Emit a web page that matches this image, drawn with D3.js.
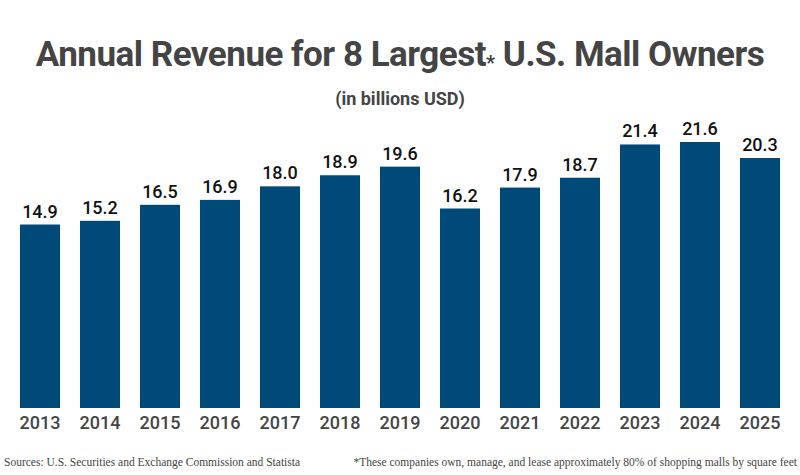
<!DOCTYPE html>
<html><head><meta charset="utf-8">
<script src="https://cdn.jsdelivr.net/npm/d3@7"></script>
<style>body{margin:0;background:#fff}</style>
</head><body>
<svg id="chart" width="800" height="475"></svg>
<script>
const years = ['2013','2014','2015','2016','2017','2018','2019','2020','2021','2022','2023','2024','2025']
const revenue = [14.9,15.2,16.5,16.9,18.0,18.9,19.6,16.2,17.9,18.7,21.4,21.6,20.3]

const svg = d3.select('#chart')
const baseY = 408

const xScale = d3.scaleBand()
  .domain(years)
  .range([10, 790])
  .paddingInner(1/3)
  .paddingOuter(1/6)

const yScale = d3.scaleLinear()
  .domain([0, 21.6])
  .range([baseY, 142])

// title
const title = svg.append('text')
  .attr('x', 400).attr('y', 66)
  .attr('text-anchor', 'middle')
  .attr('font-family', 'Roboto').attr('font-weight', 'bold')
  .attr('font-size', 35).attr('fill', '#444')
  .attr('letter-spacing', -0.5)
title.append('tspan').text('Annual Revenue for 8 Largest')
title.append('tspan').attr('font-size', 20).attr('dy', 4).text('*')
title.append('tspan').attr('dy', -4).text(' U.S. Mall Owners')

svg.append('text')
  .attr('x', 400).attr('y', 105)
  .attr('text-anchor', 'middle')
  .attr('font-family', 'Roboto').attr('font-weight', 'bold')
  .attr('font-size', 18).attr('fill', '#444')
  .text('(in billions USD)')

const g = svg.append('g')

g.selectAll('rect').data(revenue)
  .enter().append('rect')
  .attr('x', (d, i) => xScale(years[i]))
  .attr('y', d => yScale(d))
  .attr('width', xScale.bandwidth())
  .attr('height', d => baseY - yScale(d))
  .attr('fill', '#004a7a')

g.selectAll('.val').data(revenue)
  .enter().append('text')
  .attr('class', 'val')
  .attr('x', (d, i) => xScale(years[i]) + xScale.bandwidth() / 2)
  .attr('y', d => yScale(d) - 7)
  .attr('text-anchor', 'middle')
  .attr('font-family', 'Roboto').attr('font-weight', 500)
  .attr('font-size', 18).attr('fill', '#111')
  .text(d => d.toFixed(1))

const xAxisG = svg.append('g')
  .attr('transform', `translate(0,${baseY})`)
  .call(d3.axisBottom(xScale).tickSize(0).tickPadding(8))

xAxisG.select('.domain').remove()
xAxisG.selectAll('.tick text')
  .attr('font-family', 'Roboto').attr('font-weight', 500)
  .attr('font-size', 18).attr('fill', '#444')

svg.append('text')
  .attr('x', 4).attr('y', 466)
  .attr('font-family', 'Liberation Serif')
  .attr('font-size', 11.5).attr('fill', '#444')
  .text('Sources: U.S. Securities and Exchange Commission and Statista')

svg.append('text')
  .attr('x', 797).attr('y', 466)
  .attr('text-anchor', 'end')
  .attr('font-family', 'Liberation Serif')
  .attr('font-size', 11.5).attr('fill', '#444')
  .text('*These companies own, manage, and lease approximately 80% of shopping malls by square feet')
</script>
</body></html>
